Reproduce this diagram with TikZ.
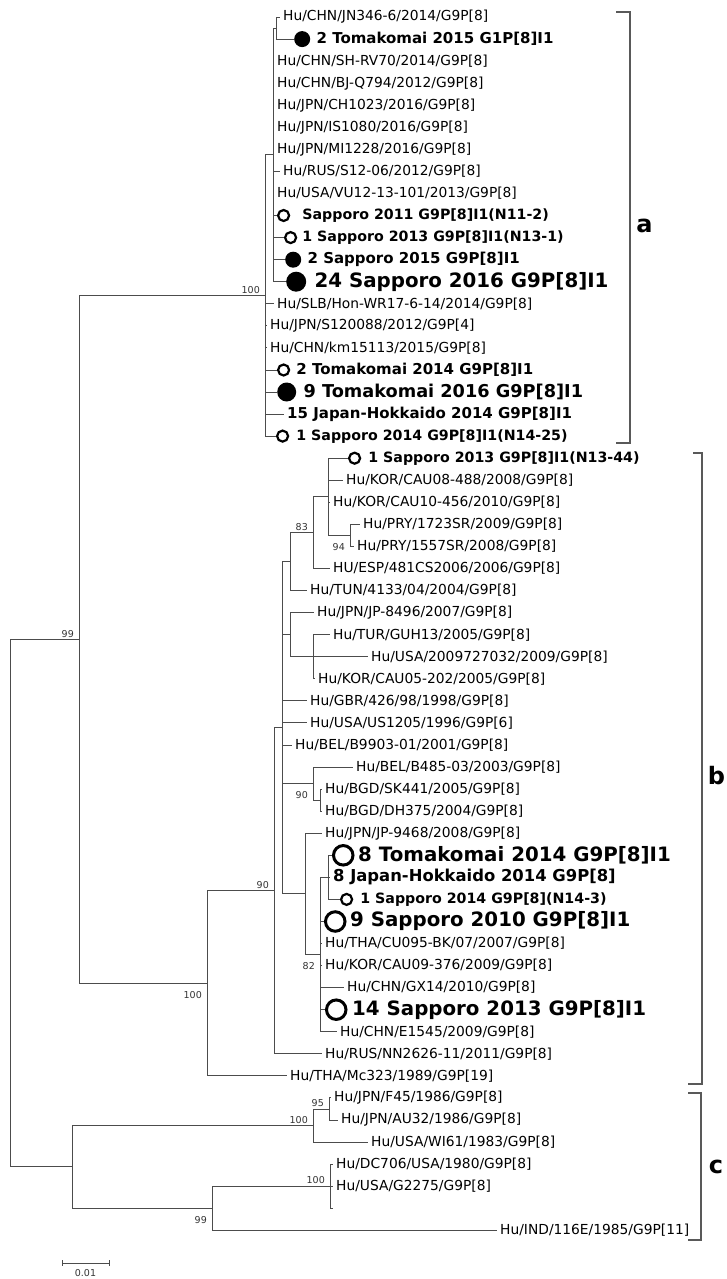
\documentclass[tikz,border=0pt]{standalone}
\usepackage{fontspec}
\setmainfont{DejaVu Sans}
\usetikzlibrary{positioning}

\newcommand{\fs}[1]{\fontsize{#1}{#1}\selectfont}

\begin{document}
\begin{tikzpicture}[x=1pt,y=-1pt,
  br/.style={draw=black!70,line width=0.9pt},
  brk/.style={draw=black!65,line width=1.3pt},
  lf/.style={anchor=west,inner xsep=3pt,inner ysep=0pt,font=\fs{13.8}},
  bsm/.style={lf,font=\fs{14.2}\bfseries},
  bmd/.style={lf,font=\fs{15}\bfseries},
  blg/.style={lf,font=\fs{19.8}\bfseries},
  fdm/.style={circle,fill=black,inner sep=0pt,minimum size=16pt,anchor=west},
  fdl/.style={fdm,minimum size=20pt},
  ods/.style={circle,draw=black,line width=2.2pt,inner sep=0pt,minimum size=11pt,anchor=west},
  odl/.style={ods,line width=3pt,minimum size=19.5pt},
  bs/.style={inner sep=0pt,text=black!80,font=\fs{9.5}},
  bsa/.style={bs,anchor=south east,xshift=-5pt,yshift=2pt},
  bsb/.style={bs,anchor=north east,xshift=-5pt,yshift=-8pt},
  grp/.style={font=\fs{24}\bfseries,inner sep=0pt}]
\useasboundingbox (0,0) rectangle (726,1279);
% internal nodes of the tree
\coordinate (root) at (10,903.1);
\coordinate (ab) at (79,639.4);
\coordinate (a0) at (265,295.5);
\coordinate (a1) at (273,154.9);
\coordinate (a2) at (276,28.05);
\coordinate (b0) at (207,983.35);
\coordinate (b1) at (274,890.8);
\coordinate (b2) at (282,727.75);
\coordinate (b3) at (290,561.6);
\coordinate (b4) at (313,532.65);
\coordinate (b5) at (328,496.8);
\coordinate (b6) at (350,535.4);
\coordinate (b7) at (290,634.7);
\coordinate (b8) at (313,656.75);
\coordinate (b9) at (313,783.6);
\coordinate (b10) at (320,800.15);
\coordinate (b11) at (305,893.9);
\coordinate (b12) at (320,954.6);
\coordinate (b13) at (328,877.35);
\coordinate (c0) at (72,1166.85);
\coordinate (c1) at (313,1125.5);
\coordinate (c2) at (329,1108.95);
\coordinate (c3) at (212,1208.2);
\coordinate (c4) at (330,1186.15);
% leaves, lineage a
\node[lf] (n1) at (280,17.0) {Hu/CHN/JN346-6/2014/G9P[8]};
\node[fdm] (d2) at (294,39.1) {};
\node[bmd,right=3pt of d2] (n2) {2 Tomakomai 2015 G1P[8]I1};
\node[lf] (n3) at (274,61.1) {Hu/CHN/SH-RV70/2014/G9P[8]};
\node[lf] (n4) at (274,83.2) {Hu/CHN/BJ-Q794/2012/G9P[8]};
\node[lf] (n5) at (274,105.2) {Hu/JPN/CH1023/2016/G9P[8]};
\node[lf] (n6) at (274,127.3) {Hu/JPN/IS1080/2016/G9P[8]};
\node[lf] (n7) at (274,149.4) {Hu/JPN/MI1228/2016/G9P[8]};
\node[lf] (n8) at (280,171.4) {Hu/RUS/S12-06/2012/G9P[8]};
\node[lf] (n9) at (274,193.5) {Hu/USA/VU12-13-101/2013/G9P[8]};
\node[ods] (d10) at (277,215.5) {};
\node[bsm,right=9pt of d10] (n10) {Sapporo 2011 G9P[8]I1(N11-2)};
\node[ods] (d11) at (284,237.6) {};
\node[bsm,right=2pt of d11] (n11) {1 Sapporo 2013 G9P[8]I1(N13-1)};
\node[fdm] (d12) at (285,259.7) {};
\node[bmd,right=3pt of d12] (n12) {2 Sapporo 2015 G9P[8]I1};
\node[fdl] (d13) at (286,281.7) {};
\node[blg,right=5pt of d13] (n13) {24 Sapporo 2016 G9P[8]I1};
\node[lf] (n14) at (274,303.8) {Hu/SLB/Hon-WR17-6-14/2014/G9P[8]};
\node[lf] (n15) at (267,325.8) {Hu/JPN/S120088/2012/G9P[4]};
\node[lf] (n16) at (267,347.9) {Hu/CHN/km15113/2015/G9P[8]};
\node[ods] (d17) at (277,370.0) {};
\node[bmd,right=3pt of d17] (n17) {2 Tomakomai 2014 G9P[8]I1};
\node[fdl,minimum size=19pt] (d18) at (277,392.0) {};
\node[bmd,font=\fs{17.7}\bfseries,right=4pt of d18] (n18) {9 Tomakomai 2016 G9P[8]I1};
\node[bmd] (n19) at (284,414.1) {15 Japan-Hokkaido 2014 G9P[8]I1};
\node[ods] (d20) at (276,436.1) {};
\node[bsm,right=4pt of d20] (n20) {1 Sapporo 2014 G9P[8]I1(N14-25)};
% leaves, lineage b
\node[ods] (d21) at (348,458.2) {};
\node[bsm,right=4pt of d21] (n21) {1 Sapporo 2013 G9P[8]I1(N13-44)};
\node[lf] (n22) at (343,480.3) {Hu/KOR/CAU08-488/2008/G9P[8]};
\node[lf] (n23) at (330,502.3) {Hu/KOR/CAU10-456/2010/G9P[8]};
\node[lf] (n24) at (360,524.4) {Hu/PRY/1723SR/2009/G9P[8]};
\node[lf] (n25) at (354,546.4) {Hu/PRY/1557SR/2008/G9P[8]};
\node[lf] (n26) at (330,568.5) {HU/ESP/481CS2006/2006/G9P[8]};
\node[lf] (n27) at (307,590.6) {Hu/TUN/4133/04/2004/G9P[8]};
\node[lf] (n28) at (314,612.6) {Hu/JPN/JP-8496/2007/G9P[8]};
\node[lf] (n29) at (330,634.7) {Hu/TUR/GUH13/2005/G9P[8]};
\node[lf] (n30) at (368,656.7) {Hu/USA/2009727032/2009/G9P[8]};
\node[lf] (n31) at (315,678.8) {Hu/KOR/CAU05-202/2005/G9P[8]};
\node[lf] (n32) at (307,700.9) {Hu/GBR/426/98/1998/G9P[8]};
\node[lf] (n33) at (307,722.9) {Hu/USA/US1205/1996/G9P[6]};
\node[lf] (n34) at (292,745.0) {Hu/BEL/B9903-01/2001/G9P[8]};
\node[lf] (n35) at (353,767.0) {Hu/BEL/B485-03/2003/G9P[8]};
\node[lf] (n36) at (322,789.1) {Hu/BGD/SK441/2005/G9P[8]};
\node[lf] (n37) at (322,811.2) {Hu/BGD/DH375/2004/G9P[8]};
\node[lf] (n38) at (322,833.2) {Hu/JPN/JP-9468/2008/G9P[8]};
\node[odl] (d39) at (332,855.3) {};
\node[blg,right=0.5pt of d39] (n39) {8 Tomakomai 2014 G9P[8]I1};
\node[bmd,font=\fs{16.4}\bfseries] (n40) at (330,877.3) {8 Japan-Hokkaido 2014 G9P[8]};
\node[ods] (d41) at (340,899.4) {};
\node[bsm,right=4pt of d41] (n41) {1 Sapporo 2014 G9P[8](N14-3)};
\node[odl] (d42) at (324,921.5) {};
\node[blg,right=0.5pt of d42] (n42) {9 Sapporo 2010 G9P[8]I1};
\node[lf] (n43) at (322,943.5) {Hu/THA/CU095-BK/07/2007/G9P[8]};
\node[lf] (n44) at (322,965.6) {Hu/KOR/CAU09-376/2009/G9P[8]};
\node[lf] (n45) at (344,987.6) {Hu/CHN/GX14/2010/G9P[8]};
\node[odl] (d46) at (325,1009.7) {};
\node[blg,right=1.5pt of d46] (n46) {14 Sapporo 2013 G9P[8]I1};
\node[lf] (n47) at (337,1031.8) {Hu/CHN/E1545/2009/G9P[8]};
\node[lf] (n48) at (322,1053.8) {Hu/RUS/NN2626-11/2011/G9P[8]};
\node[lf] (n49) at (287,1075.9) {Hu/THA/Mc323/1989/G9P[19]};
% leaves, lineage c
\node[lf] (n50) at (331,1097.9) {Hu/JPN/F45/1986/G9P[8]};
\node[lf] (n51) at (338,1120.0) {Hu/JPN/AU32/1986/G9P[8]};
\node[lf] (n52) at (368,1142.1) {Hu/USA/WI61/1983/G9P[8]};
\node[lf] (n53) at (333,1164.1) {Hu/DC706/USA/1980/G9P[8]};
\node[lf] (n54) at (333,1186.2) {Hu/USA/G2275/G9P[8]};
\coordinate (n55) at (333,1208.2);
\node[lf] (n56) at (497,1230.3) {Hu/IND/116E/1985/G9P[11]};
% branches
\foreach \c in {n1.west,d2.west} \draw[br] (a2) |- (\c);
\foreach \c in {a2,n3.west,n4.west,n5.west,n6.west,n7.west,n8.west,n9.west,d10.west,d11.west,d12.west,d13.west}
  \draw[br] (a1) |- (\c);
\foreach \c in {a1,n14.west,n15.west,n16.west,d17.west,d18.west,n19.west,d20.west}
  \draw[br] (a0) |- (\c);
\foreach \c in {n24.west,n25.west} \draw[br] (b6) |- (\c);
\foreach \c in {d21.west,n22.west,n23.west,b6} \draw[br] (b5) |- (\c);
\foreach \c in {b5,n26.west} \draw[br] (b4) |- (\c);
\foreach \c in {b4,n27.west} \draw[br] (b3) |- (\c);
\foreach \c in {n29.west,n30.west,n31.west} \draw[br] (b8) |- (\c);
\foreach \c in {n28.west,b8} \draw[br] (b7) |- (\c);
\foreach \c in {n36.west,n37.west} \draw[br] (b10) |- (\c);
\foreach \c in {n35.west,b10} \draw[br] (b9) |- (\c);
\foreach \c in {d39.west,n40.west,d41.west} \draw[br] (b13) |- (\c);
\foreach \c in {b13,d42.west,n43.west,n44.west,n45.west,d46.west,n47.west}
  \draw[br] (b12) |- (\c);
\foreach \c in {n38.west,b12} \draw[br] (b11) |- (\c);
\foreach \c in {b3,b7,n32.west,n33.west,n34.west,b9,b11} \draw[br] (b2) |- (\c);
\foreach \c in {b2,n48.west} \draw[br] (b1) |- (\c);
\foreach \c in {b1,n49.west} \draw[br] (b0) |- (\c);
\foreach \c in {a0,b0} \draw[br] (ab) |- (\c);
\foreach \c in {n50.west,n51.west} \draw[br] (c2) |- (\c);
\foreach \c in {c2,n52.west} \draw[br] (c1) |- (\c);
\foreach \c in {n53.west,n54.west,n55} \draw[br] (c4) |- (\c);
\foreach \c in {c4,n56.west} \draw[br] (c3) |- (\c);
\foreach \c in {c1,c3} \draw[br] (c0) |- (\c);
\foreach \c in {ab,c0} \draw[br] (root) |- (\c);
% bootstrap values
\node[bsa] (v1) at (a0) {100};
\node[bsa] (v2) at (ab) {99};
\node[bsa] (v3) at (b4) {83};
\node[bsb] (v4) at (b6) {94};
\node[bsb] (v5) at (b9) {90};
\node[bsa] (v6) at (b1) {90};
\node[bsb] (v7) at (b12) {82};
\node[bsb] (v8) at (b0) {100};
\node[bsa] (v9) at (c2) {95};
\node[bsa] (v10) at (c1) {100};
\node[bsa] (v11) at (c4) {100};
\node[bsb] (v12) at (c3) {99};
% lineage brackets
\draw[brk] (616,12) -| (630,443) -- (616,443);
\draw[brk] (693,453) -| (702,1084) -- (688,1084);
\draw[brk] (688,1093) -| (701,1240) -- (688,1240);
\node[grp] (ga) at (644.5,226) {a};
\node[grp] (gb) at (716.5,776) {b};
\node[grp] (gc) at (716,1167) {c};
% scale bar
\coordinate (s1) at (62,1263);
\coordinate (s2) at (109,1263);
\draw[br] (s1) -- (s2);
\draw[br] ([yshift=3pt]s1) -- ([yshift=-3pt]s1);
\draw[br] ([yshift=3pt]s2) -- ([yshift=-3pt]s2);
\node[bs] (sl) at (85.5,1273.5) {0.01};
\end{tikzpicture}
\end{document}
